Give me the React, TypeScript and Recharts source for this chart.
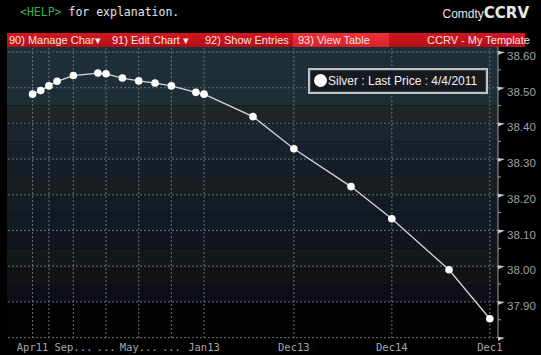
import { LineChart, Line, XAxis, YAxis, ReferenceLine, ReferenceArea } from "recharts";

// silver futures curve, last price as of 4/4/2011
const contracts = ["Apr11", "May11", "Jun11", "Jul11", "Sep11", "Dec11", "Jan12", "Mar12", "May12", "Jul12", "Sep12", "Dec12", "Jan13", "Jul13", "Dec13", "Jul14", "Dec14", "Jul15", "Dec15"];
// months after Apr11
const monthIndex = [0, 1, 2, 3, 5, 8, 9, 11, 13, 15, 17, 20, 21, 27, 32, 39, 44, 51, 56];
const lastPrice = [38.482, 38.492, 38.505, 38.518, 38.534, 38.541, 38.539, 38.527, 38.519, 38.513, 38.505, 38.487, 38.482, 38.419, 38.329, 38.223, 38.133, 37.99, 37.853];

const xTickMonths = [0, 2, 5, 9, 13, 17, 21, 32, 44, 56];
const xTickLabels = ["Apr11", "", "Sep...", "...", "May...", "...", "Jan13", "Dec13", "Dec14", "Dec1"];

const yTicks = [37.8, 37.85, 37.9, 37.95, 38.0, 38.05, 38.1, 38.15, 38.2, 38.25, 38.3, 38.35, 38.4, 38.45, 38.5, 38.55, 38.6];
const yGrid = [37.8, 37.9, 38.0, 38.1, 38.2, 38.3, 38.4, 38.5, 38.6];

// background bands of the plot (top edge values and colours)
const bandEdges = [38.614, 38.45, 38.4, 38.35, 38.3, 38.25, 38.2, 38.15, 38.1, 38.05, 38.0, 37.95, 37.9, 37.799];
const bandColors = ["#1e2e38", "#1f2426", "#1b2430", "#18202d", "#171d28", "#191e22", "#151b26", "#131923", "#12151f", "#13181b", "#141313", "#0d0e17", "#030303"];

const data = contracts.map((c, i) => ({ contract: c, m: monthIndex[i], price: lastPrice[i] }));

const mono = "'DejaVu Sans Mono', monospace";
const sans = "'Liberation Sans', Arial, sans-serif";

const YTick = (props: any) => {
  const { x, y, payload } = props;
  const v = payload.value as number;
  const major = Math.abs(v * 10 - Math.round(v * 10)) < 0.001;
  if (!major) {
    return <line x1={x} x2={x + 3} y1={y} y2={y} stroke="#9aa2a8" strokeWidth={1} />;
  }
  const showLabel = v > 37.85;
  return (
    <g>
      <polygon points={`${x},${y - 1} ${x + 7},${y} ${x},${y + 3}`} fill="#c4c8cc" />
      {showLabel && (
        <text x={x + 9} y={y + 8} fill="#9ba3aa" fontSize={11.5} fontFamily={sans}>
          {v.toFixed(2)}
        </text>
      )}
    </g>
  );
};

const XTick = (props: any) => {
  const { x, y, payload } = props;
  const i = xTickMonths.indexOf(payload.value);
  return (
    <text x={x} y={y + 13} textAnchor="middle" fill="#a4a8ac" fontSize={10.5} fontFamily={mono}>
      {xTickLabels[i]}
    </text>
  );
};

export default function App() {
  return (
    <div style={{ position: "relative", width: 541, height: 355, background: "#000", overflow: "hidden" }}>
      <style>{"body{margin:0;background:#000}"}</style>

      <div style={{ position: "absolute", left: 20, top: 5, fontFamily: mono, fontSize: 11.5, color: "#e6e6e6", whiteSpace: "pre" }}>
        <span style={{ color: "#3fae4a" }}>{"<HELP>"}</span> for explanation.
      </div>
      <div style={{ position: "absolute", right: 12, top: 4, color: "#e8e8e8", whiteSpace: "pre" }}>
        <span style={{ fontFamily: sans, fontSize: 12 }}>Comdty</span>
        <span style={{ fontFamily: "'DejaVu Sans', sans-serif", fontSize: 15, fontWeight: 700 }}>CCRV</span>
      </div>

      <div style={{ position: "absolute", left: 7, top: 33, width: 518, height: 14, background: "linear-gradient(#d2161f, #b10f17)" }} />
      <div style={{ position: "absolute", left: 293, top: 33, width: 96, height: 14, background: "linear-gradient(#ef3038, #d8222b)" }} />
      {[
        { left: 9, text: "90) Manage Char\u25BE" },
        { left: 112, text: "91) Edit Chart \u25BE" },
        { left: 205, text: "92) Show Entries" },
        { left: 298, text: "93) View Table" },
        { left: 427, text: "CCRV - My Template" },
      ].map((s) => (
        <div key={s.text} style={{ position: "absolute", left: s.left, top: 33, lineHeight: "14px", fontFamily: sans, fontSize: 11, color: "#f6e4e4", whiteSpace: "pre" }}>
          {s.text}
        </div>
      ))}

      <LineChart width={541} height={355} data={data} margin={{ top: 47, right: 0, bottom: 0, left: 7 }} style={{ position: "absolute", left: 0, top: 0 }}>
        {bandColors.map((c, i) => (
          <ReferenceArea key={c + i} y1={bandEdges[i + 1]} y2={bandEdges[i]} fill={c} fillOpacity={1} stroke="none" ifOverflow="hidden" />
        ))}
        {yGrid.map((v) => (
          <ReferenceLine key={"h" + v} y={v} stroke="#66717a" strokeDasharray="2 2" />
        ))}
        {xTickMonths.map((m) => (
          <ReferenceLine key={"v" + m} x={m} stroke="#66717a" strokeDasharray="2 2" />
        ))}
        <XAxis
          dataKey="m"
          type="number"
          domain={[-3.13, 57]}
          ticks={xTickMonths}
          interval={0}
          allowDataOverflow
          height={17}
          tickLine={false}
          axisLine={false}
          tickSize={0}
          tickMargin={0}
          tick={(p: any) => <XTick {...p} />}
        />
        <YAxis
          orientation="right"
          type="number"
          domain={[37.799, 38.614]}
          ticks={yTicks}
          interval={0}
          allowDataOverflow
          width={43}
          tickLine={false}
          tickSize={0}
          tickMargin={0}
          axisLine={{ stroke: "#9aa2a8" }}
          tick={(p: any) => <YTick {...p} />}
        />
        <Line
          dataKey="price"
          stroke="#d6d6d6"
          strokeWidth={1.3}
          dot={{ r: 3.8, fill: "#ffffff", stroke: "none" }}
          isAnimationActive={false}
        />
      </LineChart>

      <div
        style={{
          position: "absolute",
          left: 308,
          top: 68,
          width: 176,
          height: 22,
          border: "2px solid #c2c2c2",
          background: "#151a20",
          boxShadow: "inset 0 0 0 1px #3a3f44",
        }}
      >
        <div style={{ position: "absolute", left: 4, top: 4, width: 13, height: 13, borderRadius: 7, background: "#fff" }} />
        <div style={{ position: "absolute", left: 18, top: 0, lineHeight: "22px", fontFamily: sans, fontSize: 12, color: "#f2f2f2", whiteSpace: "pre" }}>
          Silver : Last Price : 4/4/2011
        </div>
      </div>
    </div>
  );
}
